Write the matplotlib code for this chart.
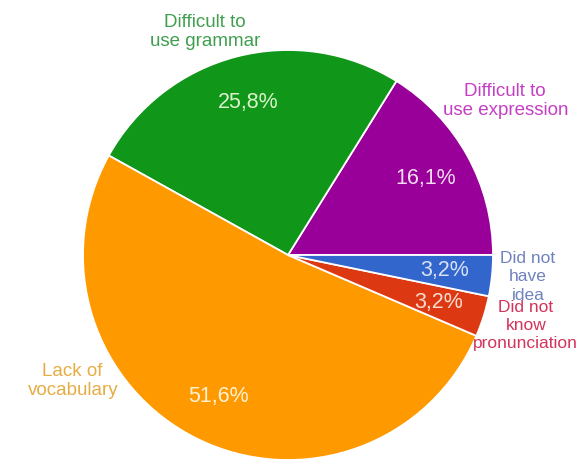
import matplotlib.pyplot as plt

# survey answers, drawn counter-clockwise from 3 o'clock
labels = ["Difficult to\nuse expression", "Difficult to\nuse grammar", "Lack of\nvocabulary",
          "Did not\nknow\npronunciation", "Did not\nhave\nidea"]
counts = [5, 8, 16, 1, 1]

slice_colors = ["#990099", "#109618", "#ff9900", "#dc3912", "#3366cc"]
label_colors = ["#c43fc4", "#3f9f4f", "#e6ad45", "#d2345a", "#6f82bf"]
pct_colors = ["#f3dcf3", "#d9f3cc", "#fff1d2", "#fbdcd0", "#d9e2f7"]

# outer label spots, in pie-radius units from the centre
label_pos = [(1.06, 0.75), (-0.405, 1.088), (-1.05, -0.615), (1.16, -0.346), (1.171, -0.107)]
label_size = [13.5, 13.5, 13.5, 12.5, 12.5]
label_spacing = [1.15, 1.15, 1.15, 1.25, 1.3]

plt.rcParams["font.family"] = ["Liberation Sans", "DejaVu Sans"]

fig = plt.figure(figsize=(5.79, 4.61), dpi=100)
ax = fig.add_axes([0, 0, 1, 1])

wedges, _, autotexts = ax.pie(
    counts, startangle=0, counterclock=True, colors=slice_colors,
    autopct=lambda p: f"{p:.1f}%".replace(".", ","), pctdistance=0.77,
    wedgeprops=dict(edgecolor="white", linewidth=1.3),
    textprops=dict(fontsize=15.5),
)
for t, c in zip(autotexts, pct_colors):
    t.set_color(c)

for text, (x, y), col, fs, ls in zip(labels, label_pos, label_colors, label_size, label_spacing):
    ax.text(x, y, text, color=col, fontsize=fs, ha="center", va="center",
            multialignment="center", linespacing=ls)

# centre sits at (288, 255) px with a 205 px radius
ax.set_xlim(-288 / 205, (579 - 288) / 205)
ax.set_ylim(-(461 - 255) / 205, 255 / 205)
ax.set_aspect("auto")
ax.axis("off")

fig.savefig("out.png", dpi=100)
